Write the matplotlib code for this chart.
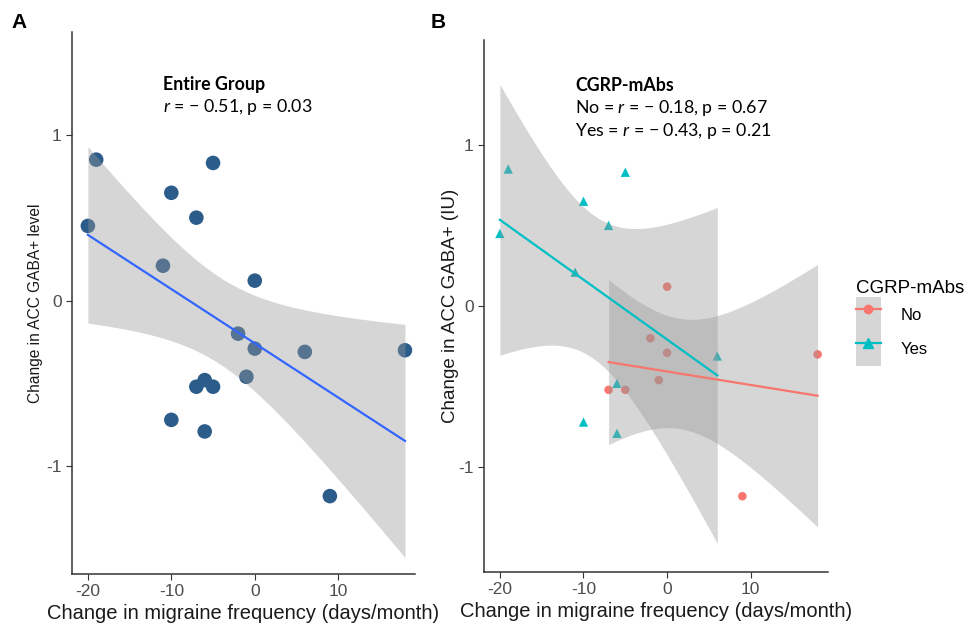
import numpy as np
import matplotlib
matplotlib.use("Agg")
import matplotlib.pyplot as plt
from matplotlib.lines import Line2D
from matplotlib.patches import Patch
from matplotlib.legend_handler import HandlerTuple

plt.rcParams['font.family'] = ['Liberation Sans', 'DejaVu Sans']
plt.rcParams['axes.unicode_minus'] = False
plt.rcParams['mathtext.fontset'] = 'custom'
plt.rcParams['mathtext.it'] = 'Lato:italic'
plt.rcParams['mathtext.rm'] = 'Lato'

# change in migraine frequency (days/month) vs change in ACC GABA+
yes_x = [-20, -19, -10, -7, -5, -11, 6, -6, -10, -6]
yes_y = [0.45, 0.85, 0.65, 0.50, 0.83, 0.21, -0.31, -0.48, -0.72, -0.79]
no_x = [0, -2, 0, 18, -1, -7, -5, 9]
no_y = [0.12, -0.20, -0.29, -0.30, -0.46, -0.52, -0.52, -1.18]

all_x = yes_x + no_x
all_y = yes_y + no_y

# t quantiles (0.975) for n-2 degrees of freedom
t_crit = {16: 2.1199, 8: 2.3060, 6: 2.4469}

x_ticks = [-20, -10, 0, 10]
y_ticks = [-1, 0, 1]

pt_col = '#2B5C8A'
line_col = '#3366FF'
no_col = '#F8766D'
yes_col = '#00BFC4'
band_col = '#999999'
tick_col = '#4D4D4D'
ann_size = 12.8


def lm_band(x, y, n_pts=80):
    x = np.asarray(x, float)
    y = np.asarray(y, float)
    n = len(x)
    b, a = np.polyfit(x, y, 1)
    res = y - (a + b * x)
    s = np.sqrt(np.sum(res ** 2) / (n - 2))
    xs = np.linspace(x.min(), x.max(), n_pts)
    fit = a + b * xs
    se = s * np.sqrt(1 / n + (xs - x.mean()) ** 2 / np.sum((x - x.mean()) ** 2))
    t = t_crit[n - 2]
    return xs, fit, fit - t * se, fit + t * se


def style_axes(ax):
    for side in ['top', 'right']:
        ax.spines[side].set_visible(False)
    for side in ['left', 'bottom']:
        ax.spines[side].set_color('#333333')
        ax.spines[side].set_linewidth(1.1)
    ax.set_xlim(-21.9, 19.2)
    ax.set_ylim(-1.65, 1.62)
    ax.set_xticks(x_ticks)
    ax.set_yticks(y_ticks)
    ax.tick_params(colors='#333333', labelcolor=tick_col, labelsize=12.5, length=4)
    ax.set_xlabel('Change in migraine frequency (days/month)', fontsize=14.5,
                  color='#1a1a1a', labelpad=3)


fig = plt.figure(figsize=(9.68, 6.28), dpi=100)

# panel A
axA = fig.add_axes([0.0744, 0.086, 0.3543, 0.863])
axA.scatter(all_x, all_y, s=110, color=pt_col, edgecolors='none', zorder=2)
xs, fit, lo, hi = lm_band(all_x, all_y)
axA.fill_between(xs, lo, hi, color=band_col, alpha=0.4, lw=0, zorder=3)
axA.plot(xs, fit, color=line_col, lw=1.6, zorder=4)
style_axes(axA)
axA.set_ylabel('Change in ACC GABA+ level', fontsize=11.2, color='#1a1a1a', labelpad=2)
axA.text(-11.0, 1.27, 'Entire Group', fontsize=ann_size, fontweight='bold', family='Lato')
axA.text(-11.0, 1.135, r'$r$ = − 0.51, p = 0.03', fontsize=ann_size, family='Lato')

# panel B
axB = fig.add_axes([0.5, 0.0892, 0.355, 0.847])
axB.scatter(yes_x, yes_y, s=45, marker='^', color=yes_col, edgecolors='none', zorder=2)
axB.scatter(no_x, no_y, s=38, marker='o', color=no_col, edgecolors='none', zorder=2)
for gx, gy, c in [(yes_x, yes_y, yes_col), (no_x, no_y, no_col)]:
    xs, fit, lo, hi = lm_band(gx, gy)
    axB.fill_between(xs, lo, hi, color=band_col, alpha=0.4, lw=0, zorder=3)
    axB.plot(xs, fit, color=c, lw=1.6, zorder=4)
style_axes(axB)
axB.set_ylim(-1.65, 1.65)
axB.set_ylabel('Change in ACC GABA+ (IU)', fontsize=13.5, color='#1a1a1a', labelpad=-1)
axB.text(-11.0, 1.335, 'CGRP-mAbs', fontsize=ann_size, fontweight='bold', family='Lato')
axB.text(-11.0, 1.195, r'No = $r$ = − 0.18, p = 0.67', fontsize=ann_size, family='Lato')
axB.text(-11.0, 1.055, r'Yes = $r$ = − 0.43, p = 0.21', fontsize=ann_size, family='Lato')

fig.text(0.012, 0.955, 'A', fontsize=15, fontweight='bold')
fig.text(0.445, 0.955, 'B', fontsize=15, fontweight='bold')

# legend
bg = Patch(facecolor='#d6d6d6', edgecolor='none')
h_no = (bg, Line2D([], [], color=no_col, lw=1.6, marker='o', markersize=6))
h_yes = (bg, Line2D([], [], color=yes_col, lw=1.6, marker='^', markersize=7))
leg = fig.legend([h_no, h_yes], ['No', 'Yes'], title='CGRP-mAbs',
                 handler_map={tuple: HandlerTuple(ndivide=1, pad=0)},
                 loc='upper left', bbox_to_anchor=(0.872, 0.572), frameon=False,
                 fontsize=12, title_fontsize=13.5, handlelength=1.5, handleheight=2.8,
                 labelspacing=0.0, handletextpad=1.2, borderpad=0.2)
leg._legend_box.align = 'left'

fig.savefig('out.png', dpi=100)
